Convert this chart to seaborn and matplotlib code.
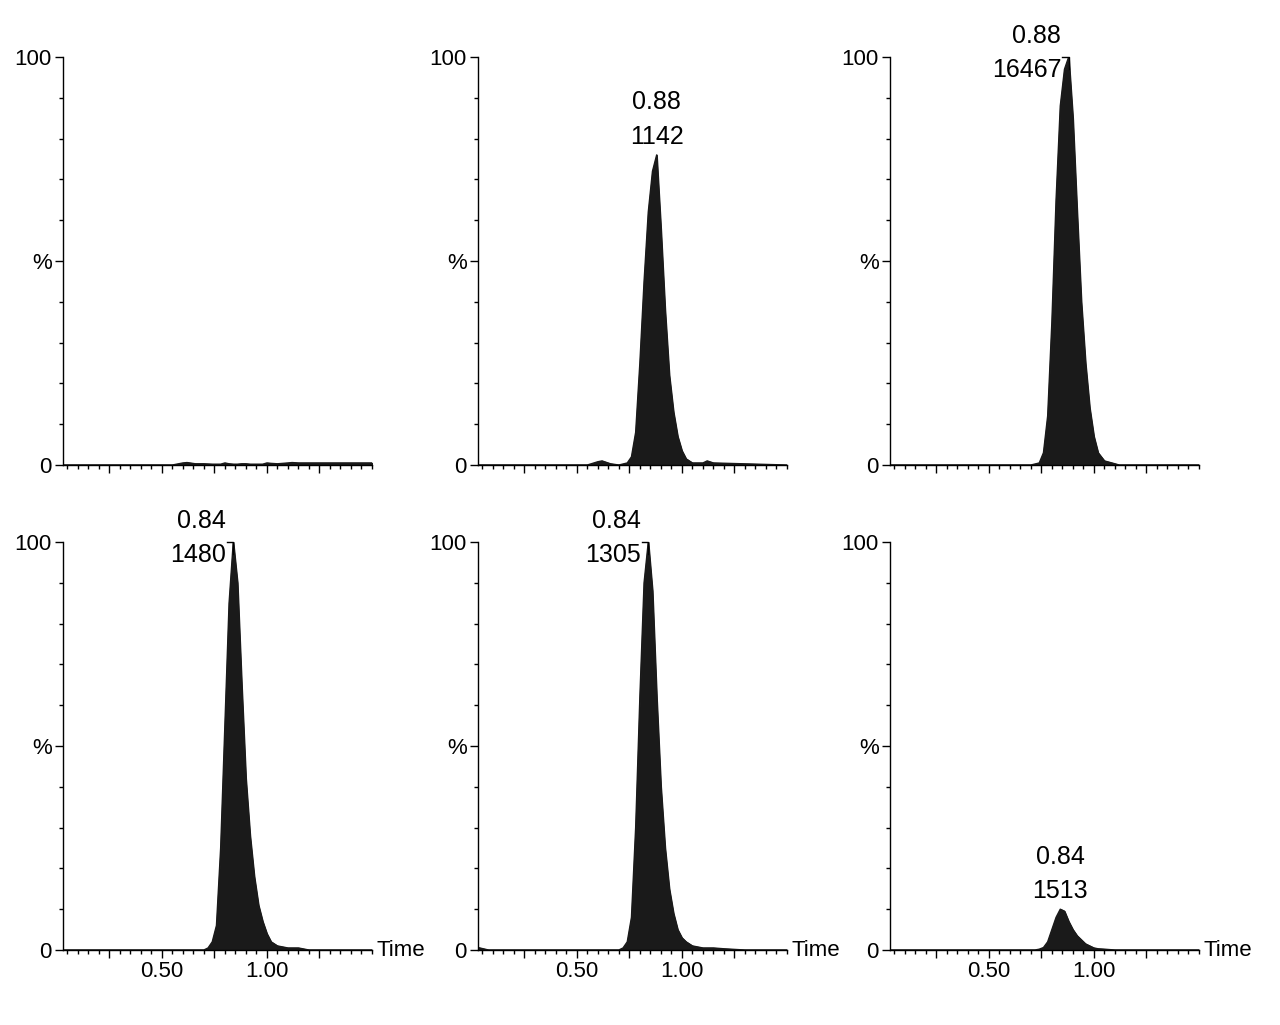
import matplotlib
matplotlib.use("Agg")
import matplotlib.pyplot as plt
import seaborn as sns
import numpy as np
from matplotlib.ticker import MultipleLocator, FixedLocator

plt.rcParams["font.family"] = "Liberation Sans"

# time grid (min) and relative intensity (%) per panel
t_peak88 = [0.03, 0.55, 0.60, 0.62, 0.66, 0.70, 0.74, 0.76, 0.78, 0.80, 0.82, 0.84, 0.86, 0.88, 0.90, 0.92, 0.94, 0.96, 0.98, 1.00, 1.02, 1.05, 1.10, 1.12, 1.15, 1.50]
t_peak84 = [0.03, 0.08, 0.70, 0.72, 0.74, 0.76, 0.78, 0.80, 0.82, 0.84, 0.86, 0.88, 0.90, 0.92, 0.94, 0.96, 0.98, 1.00, 1.02, 1.05, 1.10, 1.15, 1.20, 1.30, 1.50]

i_blank = [0, 0, 0.5, 0.6, 0.3, 0.3, 0.2, 0.2, 0.2, 0.5, 0.3, 0.2, 0.2, 0.3, 0.3, 0.2, 0.2, 0.2, 0.2, 0.5, 0.4, 0.3, 0.5, 0.6, 0.5, 0.5]
i_p2 = [0, 0, 0.8, 1.0, 0.3, 0, 0.5, 2, 8, 25, 45, 62, 72, 76, 58, 38, 22, 13, 7, 3.5, 1.5, 0.5, 0.5, 1.0, 0.5, 0]
i_p3 = [0, 0, 0, 0, 0, 0, 0.5, 3, 12, 35, 65, 88, 97, 100, 85, 62, 40, 25, 14, 7, 3, 1, 0.3, 0, 0, 0]
i_p4 = [0, 0, 0, 0.5, 2, 6, 25, 55, 85, 100, 90, 65, 42, 28, 18, 11, 7, 4, 2, 1, 0.5, 0.5, 0, 0, 0]
i_p5 = [0.6, 0, 0, 0.5, 2, 8, 30, 62, 90, 100, 88, 62, 40, 25, 15, 9, 5, 3, 2, 1, 0.5, 0.5, 0.3, 0, 0]
i_p6 = [0, 0, 0, 0, 0.2, 0.6, 2, 5, 8, 10, 9.5, 7, 5, 3.5, 2.5, 1.5, 1, 0.5, 0.3, 0.2, 0, 0, 0, 0, 0]

peak_rt = [None, "0.88", "0.88", "0.84", "0.84", "0.84"]
peak_area = [None, "1142", "16467", "1480", "1305", "1513"]
peak_x = [None, 0.88, 0.88, 0.84, 0.84, 0.84]
peak_y = [None, 76, 100, 100, 100, 10]

series = [(t_peak88, i_blank), (t_peak88, i_p2), (t_peak88, i_p3),
          (t_peak84, i_p4), (t_peak84, i_p5), (t_peak84, i_p6)]

fig = plt.figure(figsize=(12.8, 10.25), dpi=100)
W, H = 1280, 1025
lefts = [63, 478, 890]
width = 309
rows = [(57, 465), (542, 950)]

for k, (t, inten) in enumerate(series):
    r, c = divmod(k, 3)
    top, bot = rows[r]
    ax = fig.add_axes([lefts[c] / W, 1 - bot / H, width / W, (bot - top) / H])
    sns.lineplot(x=t, y=inten, ax=ax, color="#1a1a1a", lw=1)
    ax.fill_between(t, inten, color="#1a1a1a")
    ax.set_xlim(0.03, 1.5)
    ax.set_ylim(0, 100)
    sns.despine(ax=ax)
    ax.spines["left"].set_linewidth(1)
    ax.spines["bottom"].set_linewidth(1)
    ax.set_yticks([0, 50, 100])
    ax.set_yticklabels(["0", "%", "100"])
    ax.yaxis.set_minor_locator(MultipleLocator(10))
    ax.xaxis.set_major_locator(FixedLocator([0.25, 0.5, 0.75, 1.0, 1.25]))
    ax.xaxis.set_minor_locator(MultipleLocator(0.05))
    if r == 1:
        ax.set_xticklabels(["", "0.50", "", "1.00", ""])
        ax.text(1.52, 0, "Time", fontsize=16, va="center", ha="left")
    else:
        ax.set_xticklabels([])
    ax.tick_params(axis="both", which="major", length=6, width=1, labelsize=16, pad=2)
    ax.tick_params(axis="both", which="minor", length=3, width=1)
    ax.set_xlabel("")
    ax.set_ylabel("")
    if peak_rt[k] is not None:
        px, py = peak_x[k], peak_y[k]
        if py >= 95:
            ax.plot([px - 0.03, px, px], [py, py, py - 3], color="black", lw=1, clip_on=False)
            ax.text(px - 0.035, py + 1, peak_rt[k] + "\n" + peak_area[k], fontsize=18,
                    ha="right", va="center", linespacing=1.55, clip_on=False)
        else:
            ax.text(px, py + 1.5, peak_rt[k] + "\n" + peak_area[k], fontsize=18,
                    ha="center", va="bottom", linespacing=1.55)

fig.savefig("out.png", dpi=100)
